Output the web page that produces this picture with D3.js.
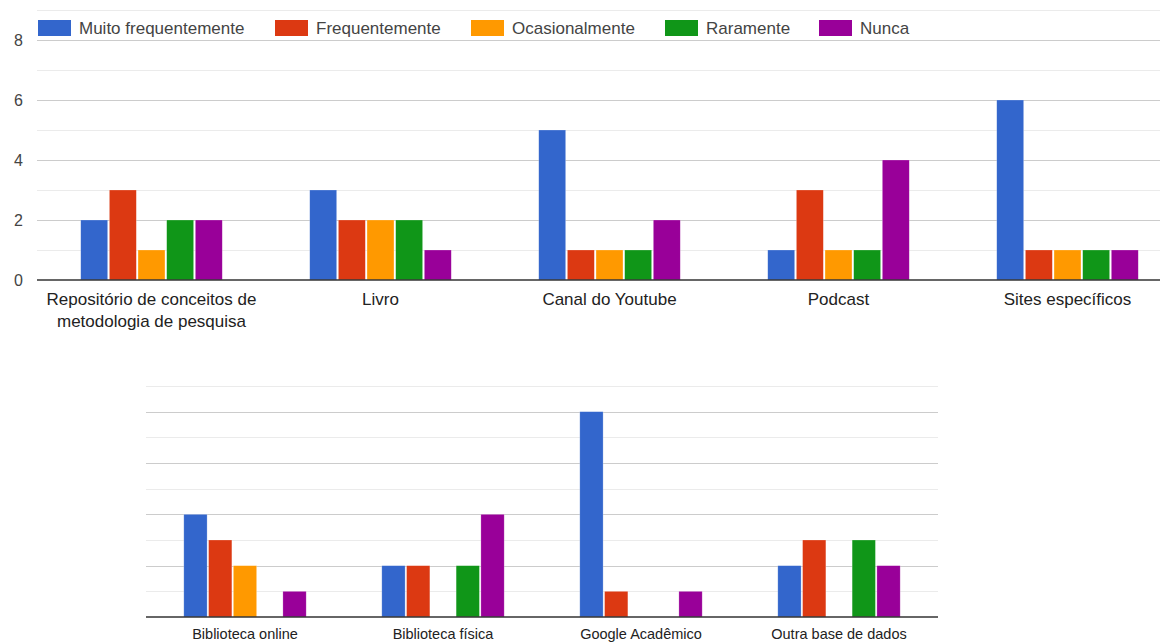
<!DOCTYPE html>
<html>
<head>
<meta charset="utf-8">
<script src="https://cdn.jsdelivr.net/npm/d3@7/dist/d3.min.js"></script>
<style>
  body { margin: 0; background: #fff; }
  svg { display: block; font-family: "Liberation Sans", Arial, sans-serif; }
</style>
</head>
<body>
<svg id="chart" width="1160" height="642"></svg>
<script>
// series names and colours
var series = ['Muito frequentemente', 'Frequentemente', 'Ocasionalmente', 'Raramente', 'Nunca'];
var colors = ['#3366cc', '#dc3912', '#ff9900', '#109618', '#990099'];

// upper chart
var topCategories = [
    ['Repositório de conceitos de', 'metodologia de pesquisa'],
    ['Livro'], ['Canal do Youtube'], ['Podcast'], ['Sites específicos']
];
var topMuito = [2, 3, 5, 1, 6];
var topFreq = [3, 2, 1, 3, 1];
var topOcas = [1, 2, 1, 1, 1];
var topRar = [2, 2, 1, 1, 1];
var topNunca = [2, 1, 2, 4, 1];
var topTicks = [0, 2, 4, 6, 8];

// lower chart
var botCategories = [['Biblioteca online'], ['Biblioteca física'], ['Google Acadêmico'], ['Outra base de dados']];
var botMuito = [4, 2, 8, 2];
var botFreq = [3, 2, 1, 3];
var botOcas = [2, 0, 0, 0];
var botRar = [0, 2, 0, 3];
var botNunca = [1, 4, 1, 2];

var svg = d3.select('#chart');

function drawChart(opt) {
    var g = svg.append('g');
    var y = d3.scaleLinear().domain([0, 9]).range([opt.y1, opt.y0]);
    var x = d3.scaleBand().domain(d3.range(opt.cats.length)).range([opt.x0, opt.x1]);
    var groupW = x.bandwidth() * 0.618;
    var xs = d3.scaleBand().domain(d3.range(series.length))
        .range([0, groupW]).paddingInner(0.06);

    // gridlines
    g.selectAll('line.grid').data(d3.range(1, 10)).enter().append('line')
        .attr('x1', opt.x0).attr('x2', opt.x1)
        .attr('y1', function (d) { return Math.round(y(d)) + 0.5; })
        .attr('y2', function (d) { return Math.round(y(d)) + 0.5; })
        .attr('stroke', function (d) { return d % 2 ? '#ebebeb' : '#cccccc'; })
        .attr('stroke-width', 1);

    if (opt.yTicks) {
        var ax = g.append('g').attr('transform', 'translate(' + (opt.x0 - 14) + ',0)')
            .call(d3.axisLeft(y).tickValues(opt.yTicks).tickSize(0).tickPadding(0));
        ax.select('.domain').remove();
        ax.selectAll('text').attr('font-size', 16).attr('fill', '#444')
            .attr('font-family', '"Liberation Sans", Arial, sans-serif');
    }

    opt.cats.forEach(function (c, i) {
        var gx = x(i) + (x.bandwidth() - groupW) / 2;
        var vals = opt.values.map(function (s, j) { return {v: s[i], j: j}; })
            .filter(function (d) { return d.v > 0; });
        g.selectAll(null).data(vals).enter().append('rect')
            .attr('x', function (d) { return gx + xs(d.j); })
            .attr('y', function (d) { return y(d.v); })
            .attr('width', xs.bandwidth())
            .attr('height', function (d) { return y(0) - y(d.v); })
            .attr('fill', function (d) { return colors[d.j]; })
            .attr('stroke', '#fff').attr('stroke-opacity', 0.4).attr('stroke-width', 0.6);

        var t = g.append('text')
            .attr('x', x(i) + x.bandwidth() / 2)
            .attr('y', opt.labelY)
            .attr('text-anchor', 'middle')
            .attr('font-size', opt.labelSize)
            .attr('fill', '#222');
        c.forEach(function (line, k) {
            t.append('tspan').attr('x', x(i) + x.bandwidth() / 2)
                .attr('dy', k ? 22 : 0).text(line);
        });
    });

    // baseline
    g.append('line').attr('x1', opt.x0).attr('x2', opt.x1)
        .attr('y1', y(0)).attr('y2', y(0))
        .attr('stroke', '#333').attr('stroke-width', 1.3);
}

drawChart({
    cats: topCategories,
    values: [topMuito, topFreq, topOcas, topRar, topNunca],
    x0: 37, x1: 1182, y0: 10, y1: 280,
    yTicks: topTicks, labelY: 305, labelSize: 17
});

drawChart({
    cats: botCategories,
    values: [botMuito, botFreq, botOcas, botRar, botNunca],
    x0: 146, x1: 938, y0: 386, y1: 617,
    yTicks: null, labelY: 639, labelSize: 14.5
});

// legend
var legendX = [38, 275, 471, 665, 819];
var leg = svg.append('g');
series.forEach(function (s, i) {
    leg.append('rect').attr('x', legendX[i]).attr('y', 20)
        .attr('width', 33).attr('height', 16).attr('fill', colors[i]);
    leg.append('text').attr('x', legendX[i] + 41).attr('y', 34)
        .attr('font-size', 17).attr('fill', '#444').text(s);
});
</script>
</body>
</html>
